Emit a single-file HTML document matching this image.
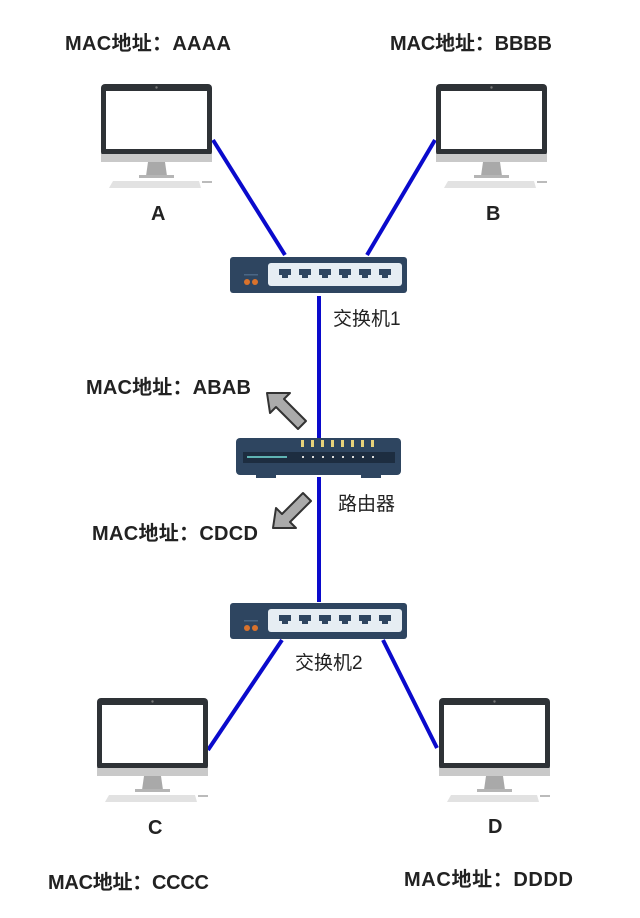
<!DOCTYPE html>
<html><head><meta charset="utf-8"><style>
html,body{margin:0;padding:0;background:#fff;}
svg{display:block;}
text{font-family:"Liberation Sans","Noto Sans CJK SC",sans-serif;fill:#222;}
.l{font-size:19px;}
.b{font-weight:bold;font-size:20px;}
</style></head><body>
<svg width="640" height="918" viewBox="0 0 640 918" xmlns="http://www.w3.org/2000/svg">
<defs>
<g id="pc">
<rect x="0" y="0" width="111" height="72" rx="4" fill="#2e3236"/>
<rect x="5" y="7" width="101" height="58" fill="#fff"/>
<circle cx="55.5" cy="3.5" r="1.2" fill="#777"/>
<rect x="0" y="70" width="111" height="8" fill="#c9c9c9"/>
<path d="M47 78 L64 78 L66 92 L45 92 Z" fill="#a9a9a9"/>
<rect x="38" y="91" width="35" height="3" fill="#b5b5b5"/>
<path d="M12 97 L98 97 L100 104 L8 104 Z" fill="#e2e2e2"/>
<rect x="101" y="97" width="10" height="2" fill="#bbb"/>
</g>
<g id="sw">
<rect x="0" y="0" width="177" height="36" rx="3" fill="#2e4560"/>
<rect x="38" y="6" width="134" height="23" rx="3" fill="#e6edf3"/>
<g fill="#2e4560">
<path d="M49 12 h12 v6 h-3 v3 h-6 v-3 h-3z"/>
<path d="M69 12 h12 v6 h-3 v3 h-6 v-3 h-3z"/>
<path d="M89 12 h12 v6 h-3 v3 h-6 v-3 h-3z"/>
<path d="M109 12 h12 v6 h-3 v3 h-6 v-3 h-3z"/>
<path d="M129 12 h12 v6 h-3 v3 h-6 v-3 h-3z"/>
<path d="M149 12 h12 v6 h-3 v3 h-6 v-3 h-3z"/>
</g>
<circle cx="17" cy="25" r="3" fill="#d9722c"/>
<circle cx="25" cy="25" r="3" fill="#d9722c"/>
<rect x="14" y="17" width="14" height="1.5" fill="#4a6685"/>
</g>
</defs>

<g stroke="#0a0acc" stroke-width="4" fill="none">
<line x1="213" y1="140" x2="285" y2="255"/>
<line x1="435" y1="140" x2="367" y2="255"/>
<line x1="319" y1="296" x2="319" y2="438"/>
<line x1="319" y1="477" x2="319" y2="602"/>
<line x1="208" y1="750" x2="282" y2="640"/>
<line x1="437" y1="748" x2="383" y2="640"/>
</g>

<use href="#pc" x="101" y="84"/>
<use href="#pc" x="436" y="84"/>
<use href="#pc" x="97" y="698"/>
<use href="#pc" x="439" y="698"/>

<use href="#sw" x="230" y="257"/>
<use href="#sw" x="230" y="603"/>

<rect x="236" y="438" width="165" height="37" rx="4" fill="#2e4560"/>
<rect x="243" y="452" width="152" height="11" fill="#1d2d40"/>
<rect x="247" y="456" width="40" height="2" fill="#5fb3b3"/>
<g fill="#e8d27a">
<rect x="301" y="440" width="3" height="7"/><rect x="311" y="440" width="3" height="7"/><rect x="321" y="440" width="3" height="7"/><rect x="331" y="440" width="3" height="7"/><rect x="341" y="440" width="3" height="7"/><rect x="351" y="440" width="3" height="7"/><rect x="361" y="440" width="3" height="7"/><rect x="371" y="440" width="3" height="7"/>
</g>
<g fill="#ddd">
<rect x="302" y="456" width="2" height="2"/><rect x="312" y="456" width="2" height="2"/><rect x="322" y="456" width="2" height="2"/><rect x="332" y="456" width="2" height="2"/><rect x="342" y="456" width="2" height="2"/><rect x="352" y="456" width="2" height="2"/><rect x="362" y="456" width="2" height="2"/><rect x="372" y="456" width="2" height="2"/>
</g>
<rect x="256" y="475" width="20" height="3" fill="#2e4560"/>
<rect x="361" y="475" width="20" height="3" fill="#2e4560"/>

<path d="M267 393 L290 393 L284 399 L306 421 L298 429 L276 407 L270 413 Z" fill="#aaa" stroke="#333" stroke-width="2" stroke-linejoin="round"/>
<path d="M273 528 L296 528 L290 522 L311 501 L303 493 L282 514 L276 508 Z" fill="#aaa" stroke="#333" stroke-width="2" stroke-linejoin="round"/>

<text class="b" x="65" y="50" textLength="166">MAC地址：AAAA</text>
<text class="b" x="390" y="50" textLength="162">MAC地址：BBBB</text>
<text class="b" x="86" y="394" textLength="165">MAC地址：ABAB</text>
<text class="b" x="92" y="540" textLength="166">MAC地址：CDCD</text>
<text class="b" x="48" y="889" textLength="161">MAC地址：CCCC</text>
<text class="b" x="404" y="886" textLength="169">MAC地址：DDDD</text>
<text class="b" x="151" y="220">A</text>
<text class="b" x="486" y="220">B</text>
<text class="b" x="148" y="834">C</text>
<text class="b" x="488" y="833">D</text>
<text class="l" x="333" y="325">交换机1</text>
<text class="l" x="338" y="510">路由器</text>
<text class="l" x="295" y="669">交换机2</text>
</svg>
</body></html>
